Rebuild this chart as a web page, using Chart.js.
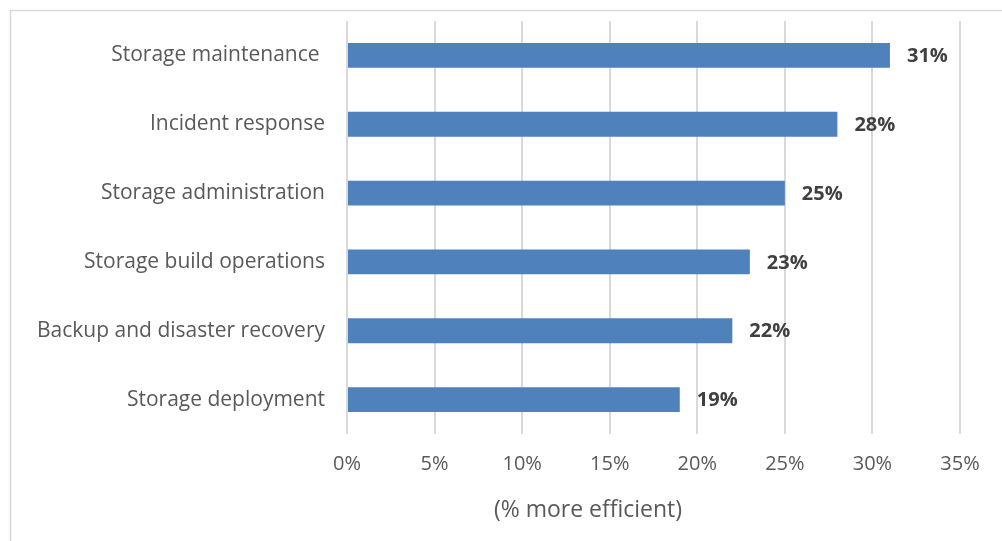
<!DOCTYPE html>
<html>
<head>
<meta charset="utf-8">
<script src="https://cdn.jsdelivr.net/npm/chart.js@4/dist/chart.umd.min.js"></script>
<style>
html,body{margin:0;padding:0;background:#fff;}
#wrap{position:relative;width:1002px;height:541px;}
</style>
</head>
<body>
<div id="wrap"><canvas id="c" width="1002" height="541"></canvas></div>
<script>
const categories = ["Storage maintenance ","Incident response","Storage administration","Storage build operations","Backup and disaster recovery","Storage deployment"];
const values = [31, 28, 25, 23, 22, 19];
const tickStep = 5;
const axisMax = 35;
const axisTitle = "(% more efficient)";

const FONT = "'Open Sans', sans-serif";

const frame = {
  id: 'frame',
  beforeDraw(chart) {
    const ctx = chart.ctx;
    ctx.save();
    ctx.fillStyle = '#fff';
    ctx.fillRect(0, 0, chart.width, chart.height);
    ctx.strokeStyle = '#d9d9d9';
    ctx.lineWidth = 1.5;
    ctx.strokeRect(10.5, 10.5, chart.width + 10, chart.height + 10);
    ctx.restore();
  }
};

const labels = {
  id: 'labels',
  afterDatasetsDraw(chart) {
    const ctx = chart.ctx;
    const meta = chart.getDatasetMeta(0);
    ctx.save();
    ctx.font = "bold 20px " + FONT;
    ctx.fillStyle = '#404040';
    ctx.textBaseline = 'middle';
    ctx.textAlign = 'left';
    meta.data.forEach((bar, i) => {
      ctx.fillText(values[i] + '%', bar.x + 17, bar.y + 1);
    });
    // axis title, offset left as in the reference
    ctx.font = "23px " + FONT;
    ctx.fillStyle = '#595959';
    ctx.textAlign = 'center';
    ctx.fillText(axisTitle, 588, 510);
    ctx.restore();
  }
};

new Chart(document.getElementById('c'), {
  type: 'bar',
  data: {
    labels: categories,
    datasets: [{
      data: values,
      backgroundColor: '#4f81bd',
      borderColor: '#4f81bd',
      borderWidth: 0,
      categoryPercentage: 1,
      barPercentage: 0.36
    }]
  },
  options: {
    indexAxis: 'y',
    responsive: false,
    animation: false,
    layout: { padding: { left: 0, right: 42, top: 21, bottom: 0 } },
    plugins: { legend: { display: false }, tooltip: { enabled: false } },
    scales: {
      x: {
        min: 0, max: axisMax,
        ticks: { stepSize: tickStep, callback: v => v + '%', color: '#595959', font: { family: FONT, size: 20 }, padding: 18 },
        grid: { color: '#d9d9d9', lineWidth: 2, drawTicks: false },
        border: { display: false },
        title: { display: false },
        afterFit(s) { s.height = 541 - 434; s.paddingLeft = 0; s.paddingRight = 0; }
      },
      y: {
        ticks: { color: '#595959', font: { family: FONT, size: 21 }, padding: 22 },
        grid: { display: false, drawTicks: false },
        border: { display: false },
        afterFit(s) { s.width = 347; s.paddingTop = 0; s.paddingBottom = 0; }
      }
    }
  },
  plugins: [frame, labels]
});
</script>
</body>
</html>
